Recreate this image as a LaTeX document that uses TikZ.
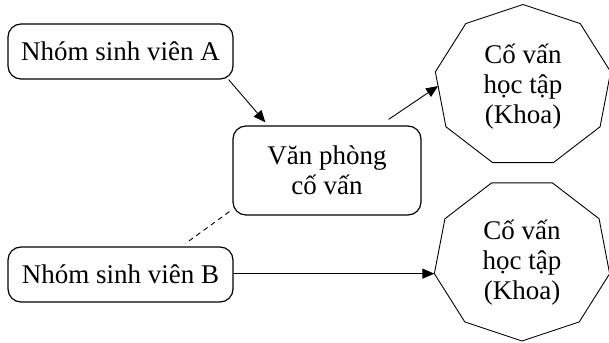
\documentclass[tikz,border=0pt]{standalone}
\usepackage{fontspec}
\setmainfont{Liberation Serif}
\usetikzlibrary{arrows.meta,shapes.geometric}

\begin{document}
\begin{tikzpicture}[x=1pt,y=-1pt,
    every node/.style={font=\fontsize{27}{30}\selectfont, align=center},
    nhom/.style={draw, line width=1.2pt, rounded corners=13pt, minimum width=225pt, minimum height=55pt, inner sep=0pt},
    vanphong/.style={draw, line width=1.2pt, rounded corners=13pt, minimum width=188pt, minimum height=89pt, inner sep=0pt},
    khoa/.style={draw, line width=0.9pt, regular polygon, regular polygon sides=9, minimum size=163pt, inner sep=0pt, outer sep=0pt, xscale=1.092},
    arr/.style={line width=0.9pt, -{Triangle[length=12pt,width=10pt]}}]
  \useasboundingbox (0,0) rectangle (609,342);
  \draw
    (120.5,51.5) node[nhom] (A){Nhóm sinh viên A}
    (120.5,274.5) node[nhom] (B){Nhóm sinh viên B}
    (327,170.5) node[vanphong] (vp){Văn phòng\\cố vấn}
    (523,86) node[khoa] (k1){}
    (522,259.5) node[khoa, shape border rotate=180] (k2){}
    (523,87) node (k1t){Cố vấn\\học tập\\(Khoa)}
    (522,263) node (k2t){Cố vấn\\học tập\\(Khoa)};
  \begin{scope}[arr]
    \draw ([xshift=-5pt]A.south east) to ([xshift=33pt,yshift=3pt]vp.north west);
    \draw ([xshift=-33pt,yshift=6pt]vp.north east) to (k1.west);
    \draw (B.east |- k2.190) to (k2.190);
  \end{scope}
  \draw[line width=0.9pt, dash pattern=on 5pt off 4pt] ([xshift=-3pt,yshift=4pt]vp.south west) to ([xshift=-48pt,yshift=3pt]B.north east);
\end{tikzpicture}
\end{document}
